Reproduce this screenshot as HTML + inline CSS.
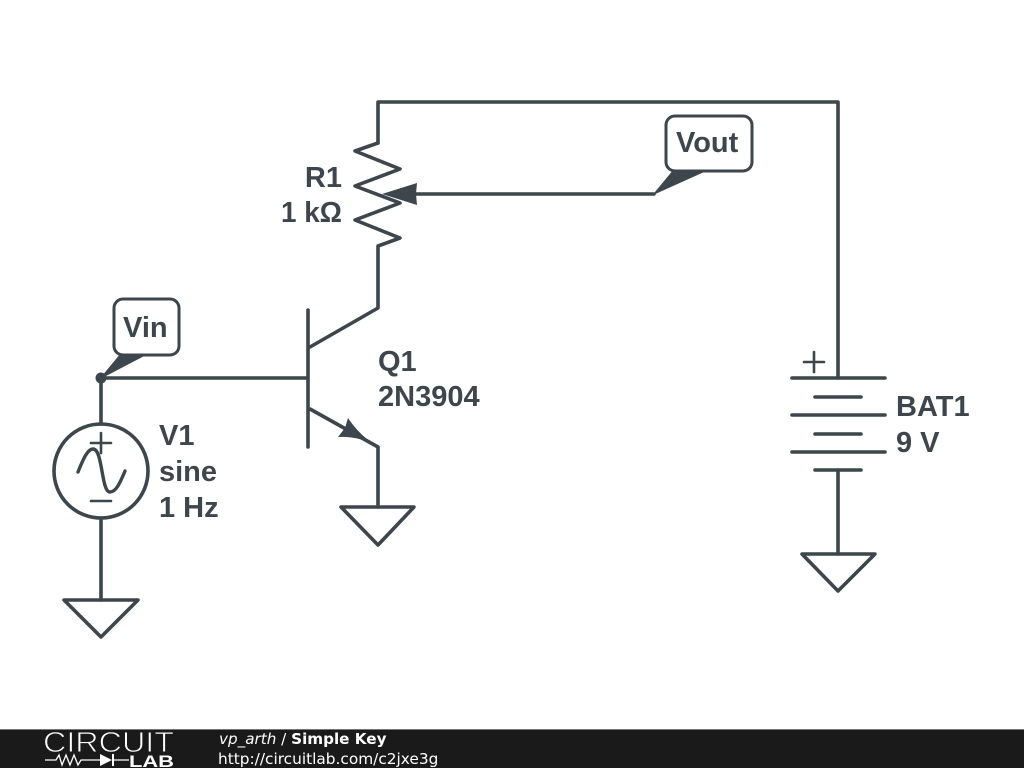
<!DOCTYPE html>
<html>
<head>
<meta charset="utf-8">
<style>
html,body{margin:0;padding:0;background:#fff;}
svg{display:block;}
.l{font-family:"Liberation Sans",sans-serif;font-weight:700;font-size:29px;fill:#3d464c;}
.f{font-family:"DejaVu Sans",sans-serif;font-size:15.35px;fill:#fff;}
</style>
</head>
<body>
<svg width="1024" height="768" viewBox="0 0 1024 768" xmlns="http://www.w3.org/2000/svg">
<rect width="1024" height="768" fill="#fff"/>
<g fill="none" stroke="#3d464c" stroke-width="3.6" stroke-linecap="round" stroke-linejoin="round">
<path d="M378 143V102H838V378"/>
<path d="M378 143L355 151L400 169L355 186L400 203L355 220L400 238L378 246V308L310 347"/>
<path d="M654 194H412"/>
<path d="M308 310V447"/>
<path d="M101 378H306"/>
<path d="M310 409L378 447V507"/>
<path d="M341 507H414L378 545Z"/>
<path d="M101 378V424M101 518V600"/>
<path d="M64 600H138L101 637Z"/>
<circle cx="101" cy="471" r="47"/>
<path d="M838 470V554"/>
<path d="M802 554H875L838 591Z"/>
<path d="M792 378H885M815 397H861M792 415H885M815 434H861M792 452H885M815 470H861"/>
</g>
<g fill="none" stroke="#3d464c" stroke-width="2.6" stroke-linecap="round">
<path d="M804 362H824M814 352V372"/>
<path d="M91 443H111M101 433V453"/>
<path d="M91 501H111"/>
</g>
<path d="M78 472C84 457 88 449 93 449C103 449 101 492 110 492C116 492 120 483 125 471" fill="none" stroke="#3d464c" stroke-width="3.4" stroke-linecap="round"/>
<g fill="#3d464c">
<path d="M382 194L417 183L416 194L417 205Z"/>
<path d="M378 447Q360 436 338 437L345 428L348 418Q360 436 378 447Z"/>
<circle cx="101" cy="378" r="5.5"/>
</g>
<g fill="#fff" stroke="#3d464c" stroke-width="3">
<rect x="114" y="299" width="65" height="56" rx="9"/>
<rect x="666" y="116" width="86" height="55" rx="9"/>
</g>
<g fill="#3d464c" stroke="#3d464c" stroke-width="1" stroke-linejoin="round">
<path d="M101 378L120 355H145Z"/>
<path d="M654 194L673 171H705Z"/>
</g>
<text class="l" x="123" y="337">Vin</text>
<text class="l" x="676" y="152">Vout</text>
<text class="l" x="342" y="187" text-anchor="end">R1</text>
<text class="l" x="281" y="222" textLength="61" lengthAdjust="spacingAndGlyphs">1 kΩ</text>
<text class="l" x="378" y="371">Q1</text>
<text class="l" x="378" y="406">2N3904</text>
<text class="l" x="159" y="445">V1</text>
<text class="l" x="159" y="481">sine</text>
<text class="l" x="159" y="517">1 Hz</text>
<text class="l" x="896" y="416">BAT1</text>
<text class="l" x="896" y="452">9 V</text>
<rect x="0" y="729" width="1024" height="39" fill="#1a1a1a"/>
<rect x="0" y="729" width="1024" height="1" fill="#777"/>
<text x="43" y="752" font-family="'Liberation Sans',sans-serif" font-size="29" textLength="131" lengthAdjust="spacingAndGlyphs" fill="#fff" stroke="#1a1a1a" stroke-width="0.9" paint-order="fill stroke">CIRCUIT</text>
<path d="M45 760H56L59 755L62 765L66 755L70 765L74 755L78 765L81 760H100M114 760H129" fill="none" stroke="#fff" stroke-width="1.3"/>
<path d="M100 754V766L112 760Z" fill="#fff"/>
<path d="M113 754V766" stroke="#fff" stroke-width="2"/>
<text x="129" y="767" font-family="'Liberation Sans',sans-serif" font-size="17" font-weight="700" textLength="45" lengthAdjust="spacingAndGlyphs" fill="#fff">LAB</text>
<text class="f" x="219" y="744" style="font-size:15.2px"><tspan font-style="italic">vp_arth</tspan> / <tspan font-weight="700">Simple Key</tspan></text>
<text class="f" x="218" y="764">http://circuitlab.com/c2jxe3g</text>
</svg>
</body>
</html>
